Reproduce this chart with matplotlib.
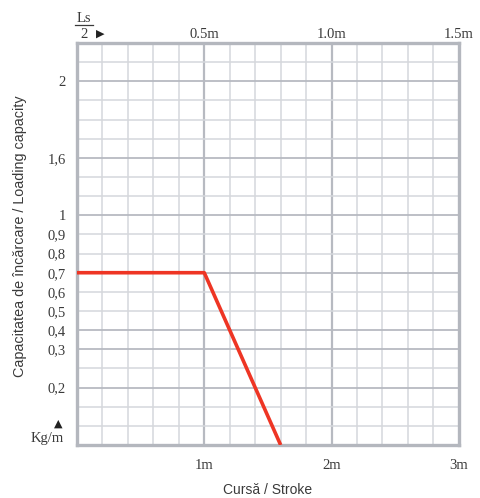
import numpy as np
import matplotlib
matplotlib.use("Agg")
import matplotlib.pyplot as plt
from matplotlib.scale import FuncScale

# load capacity curve
stroke_m = [0.0, 1.0, 1.6]
load_kg_m = [0.7, 0.7, 0.05]

# the chart's y scale is not regular: labelled values and their grid rows
y_vals = [0.05, 0.2, 0.3, 0.4, 0.5, 0.6, 0.7, 0.8, 0.9, 1.0, 1.6, 2.0, 2.2]
y_rows = [0, 3, 5, 6, 7, 8, 9, 10, 11, 12, 15, 19, 21]
y_labels = ["0.2", "0.3", "0.4", "0.5", "0.6", "0.7", "0.8", "0.9", "1", "1.6", "2"]

x_ticks = [1, 2, 3]
x_labels = ["1m", "2m", "3m"]
top_labels = ["0.5m", "1.0m", "1.5m"]


def fwd(v):
    return np.interp(v, y_vals, y_rows)


def inv(r):
    return np.interp(r, y_rows, y_vals)


grid_minor = "#d5d7dc"
grid_major = "#b7bac1"
frame_col = "#b4b7be"
txt = "#3a3a3a"
serif = "Liberation Serif"
sans = "Liberation Sans"

fig = plt.figure(figsize=(4.81, 4.98), dpi=100)
ax = fig.add_axes([0.160, 0.1064, 0.794, 0.8073])
ax.set_yscale(FuncScale(ax, (fwd, inv)))
ax.set_xlim(0, 3)
ax.set_ylim(0.05, 2.2)

# grid
for xv in np.arange(0.2, 3.0, 0.2):
    major = abs(xv - round(xv)) < 1e-6
    ax.axvline(xv, color=grid_major if major else grid_minor,
               lw=1.6 if major else 1.1, zorder=1)
dark_rows = [3, 5, 6, 9, 12, 15, 19]
for r in range(1, 21):
    ax.axhline(inv(r), color=grid_major if r in dark_rows else grid_minor,
               lw=1.3 if r in dark_rows else 1.1, zorder=1)

ax.plot(stroke_m, load_kg_m, color="#ee3524", lw=2.6, zorder=3,
        solid_capstyle="butt")

for s in ax.spines.values():
    s.set_color(frame_col)
    s.set_linewidth(2.4)

ax.set_xticks(x_ticks)
ax.set_xticklabels(x_labels, fontfamily=serif, fontsize=10.5, color=txt)
ax.set_yticks([float(v) for v in y_labels])
ax.set_yticklabels([l.replace(".", ",") for l in y_labels],
                   fontfamily=serif, fontsize=10.5, color=txt)
ax.tick_params(length=0, pad=8)
ax.tick_params(axis="x", pad=10)

top = ax.secondary_xaxis("top")
top.set_xticks(x_ticks)
top.set_xticklabels(top_labels, fontfamily=serif, fontsize=10.5, color=txt)
top.tick_params(length=0, pad=1.5)
top.spines["top"].set_visible(False)

ax.set_xlabel("Cursă / Stroke", fontfamily=sans, fontsize=10, color=txt)
ax.xaxis.set_label_coords(0.5, -0.095)
ax.set_ylabel("Capacitatea de încărcare / Loading capacity",
              fontfamily=sans, fontsize=10.4, color=txt)
ax.yaxis.set_label_coords(-0.131, 0.52)

# unit markers
ax.text(-0.034, 0.015, "Kg/m", transform=ax.transAxes, ha="right",
        va="center", fontfamily=serif, fontsize=10.5, color=txt)
ax.text(-0.05, 0.052, "\u25b2", transform=ax.transAxes, ha="center",
        va="center", fontsize=8, color="#222222")
ax.text(0.018, 1.061, "Ls", transform=ax.transAxes, ha="center",
        va="center", fontfamily=serif, fontsize=10.5, color=txt)
ax.plot([-0.005, 0.043], [1.044, 1.044], transform=ax.transAxes,
        color=txt, lw=0.9, clip_on=False)
ax.text(0.018, 1.021, "2", transform=ax.transAxes, ha="center",
        va="center", fontfamily=serif, fontsize=10.5, color=txt)
ax.text(0.062, 1.022, "\u25b6", transform=ax.transAxes, ha="center",
        va="center", fontsize=8, color="#222222")

fig.savefig("out.png", dpi=100)
